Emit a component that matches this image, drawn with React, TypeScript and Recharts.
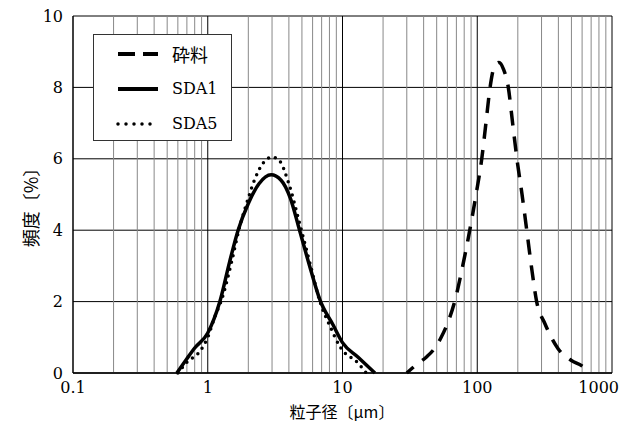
import { LineChart, Line, XAxis, YAxis, CartesianGrid, ReferenceLine } from 'recharts'

const sizeCrush = [30, 34.5, 42, 48, 54, 61, 68, 78, 88, 98, 108, 116, 124.5, 133, 145, 157, 170, 183, 197, 215, 233, 252, 276, 318, 398, 500, 598, 690]
const freqCrush = [0, 0.2, 0.45, 0.68, 1.0, 1.45, 2.0, 3.0, 4.0, 5.0, 6.0, 7.0, 8.0, 8.55, 8.7, 8.5, 8.0, 7.0, 6.0, 5.0, 4.0, 3.0, 2.0, 1.38, 0.68, 0.35, 0.2, 0]

const sizeSda1 = [0.59, 0.7, 0.8, 1.0, 1.23, 1.45, 1.68, 2.0, 2.4, 2.95, 3.5, 4.1, 4.8, 5.8, 6.8, 8.5, 10, 13, 17.4]
const freqSda1 = [0, 0.4, 0.7, 1.12, 2.0, 3.1, 4.0, 4.75, 5.3, 5.55, 5.4, 4.9, 4.0, 2.9, 2.05, 1.35, 0.85, 0.45, 0]

const sizeSda5 = [0.6, 0.7, 0.88, 1.0, 1.13, 1.28, 1.5, 1.7, 2.0, 2.24, 2.6, 3.0, 3.4, 4.0, 4.8, 5.8, 6.8, 8.1, 9.6, 13, 15]
const freqSda5 = [0, 0.3, 0.62, 1.0, 1.58, 2.1, 3.1, 4.0, 4.9, 5.44, 5.9, 6.05, 5.95, 5.3, 4.2, 3.0, 2.0, 1.3, 0.73, 0.28, 0]

const xTicks = [0.1, 1, 10, 100, 1000]
const yTicks = [0, 2, 4, 6, 8, 10]
const minorGrid = [
  0.2, 0.3, 0.4, 0.5, 0.6, 0.7, 0.8, 0.9,
  2, 3, 4, 5, 6, 7, 8, 9,
  20, 30, 40, 50, 60, 70, 80, 90,
  200, 300, 400, 500, 600, 700, 800, 900,
]
const decadeGrid = [1, 10, 100, 1000]

const seriesNames = ['砕料', 'SDA1', 'SDA5']
const seriesDash = ['15 11', undefined, '0 7']
const legendDash = ['17 8', undefined, '0 8']

const toRows = (xs: number[], ys: number[]) => xs.map((x, i) => ({ x, y: ys[i] }))

const serif = 'DejaVu Serif'
const cjk = 'Noto Sans CJK JP'

function LegendBox() {
  return (
    <div
      style={{
        position: 'absolute',
        left: 93,
        top: 34,
        width: 139,
        height: 107,
        border: '1px solid #333',
        background: '#fff',
        color: '#000',
        boxSizing: 'border-box',
        paddingTop: 1,
      }}
    >
      {seriesNames.map((name, i) => (
        <div key={name} style={{ display: 'flex', alignItems: 'center', height: 35 }}>
          <svg width={78} height={10} style={{ display: 'block', flex: 'none' }}>
            <line
              x1={24}
              x2={64}
              y1={5}
              y2={5}
              stroke="#000"
              strokeWidth={i === 2 ? 3.5 : 4}
              strokeDasharray={legendDash[i]}
              strokeLinecap={i === 2 ? 'round' : 'butt'}
            />
          </svg>
          <span style={{ fontFamily: i === 0 ? cjk : serif, fontSize: i === 0 ? 18 : 16, lineHeight: 1 }}>{name}</span>
        </div>
      ))}
    </div>
  )
}

function XTick(props: any) {
  const { x, y, payload } = props
  const last = payload.value === 1000
  return (
    <text
      x={last ? 619 : x}
      y={y}
      dy={10}
      textAnchor={last ? 'end' : 'middle'}
      fontSize={16}
      fontFamily={serif}
      fill="#000"
    >
      {String(payload.value)}
    </text>
  )
}

function YTitle() {
  return (
    <text
      x={30}
      y={203}
      transform="rotate(-90 30 203)"
      textAnchor="middle"
      dominantBaseline="central"
      fontSize={18}
      fontFamily={cjk}
      fill="#000"
    >
      頻度〔%〕
    </text>
  )
}

function XTitle() {
  return (
    <text x={342} y={418} textAnchor="middle" fontSize={16} fontFamily={cjk} fill="#000">
      粒子径〔μm〕
    </text>
  )
}

export default function App() {
  return (
    <div style={{ position: 'absolute', left: 0, top: 0, width: 620, height: 423, background: '#fff' }}>
      <LineChart width={620} height={423} margin={{ top: 16, right: 8, left: 13, bottom: 20 }}>
        <CartesianGrid vertical={false} stroke="#000" strokeWidth={1} />
        {minorGrid.map((v) => (
          <ReferenceLine key={v} x={v} stroke="#888" strokeWidth={1} />
        ))}
        {decadeGrid.map((v) => (
          <ReferenceLine key={v} x={v} stroke="#000" strokeWidth={1} />
        ))}
        <XAxis
          type="number"
          dataKey="x"
          scale="log"
          domain={[0.1, 1000]}
          ticks={xTicks}
          allowDataOverflow
          height={30}
          tickLine={false}
          tickMargin={4}
          axisLine={{ stroke: '#000', strokeWidth: 1.5 }}
          tick={<XTick />}
          label={<XTitle />}
        />
        <YAxis
          type="number"
          domain={[0, 10]}
          ticks={yTicks}
          width={60}
          tickLine={false}
          tickMargin={4}
          axisLine={{ stroke: '#000', strokeWidth: 1.5 }}
          tick={{ fill: '#000', fontSize: 16, fontFamily: serif }}
          label={<YTitle />}
        />
        <Line
          data={toRows(sizeCrush, freqCrush)}
          dataKey="y"
          name={seriesNames[0]}
          type="monotone"
          stroke="#000"
          strokeWidth={3.5}
          strokeDasharray={seriesDash[0]}
          strokeDashoffset={6}
          dot={false}
          isAnimationActive={false}
        />
        <Line
          data={toRows(sizeSda1, freqSda1)}
          dataKey="y"
          name={seriesNames[1]}
          type="monotone"
          stroke="#000"
          strokeWidth={3.5}
          dot={false}
          isAnimationActive={false}
        />
        <Line
          data={toRows(sizeSda5, freqSda5)}
          dataKey="y"
          name={seriesNames[2]}
          type="monotone"
          stroke="#000"
          strokeWidth={3.5}
          strokeDasharray={seriesDash[2]}
          strokeLinecap="round"
          dot={false}
          isAnimationActive={false}
        />
      </LineChart>
      <LegendBox />
    </div>
  )
}
